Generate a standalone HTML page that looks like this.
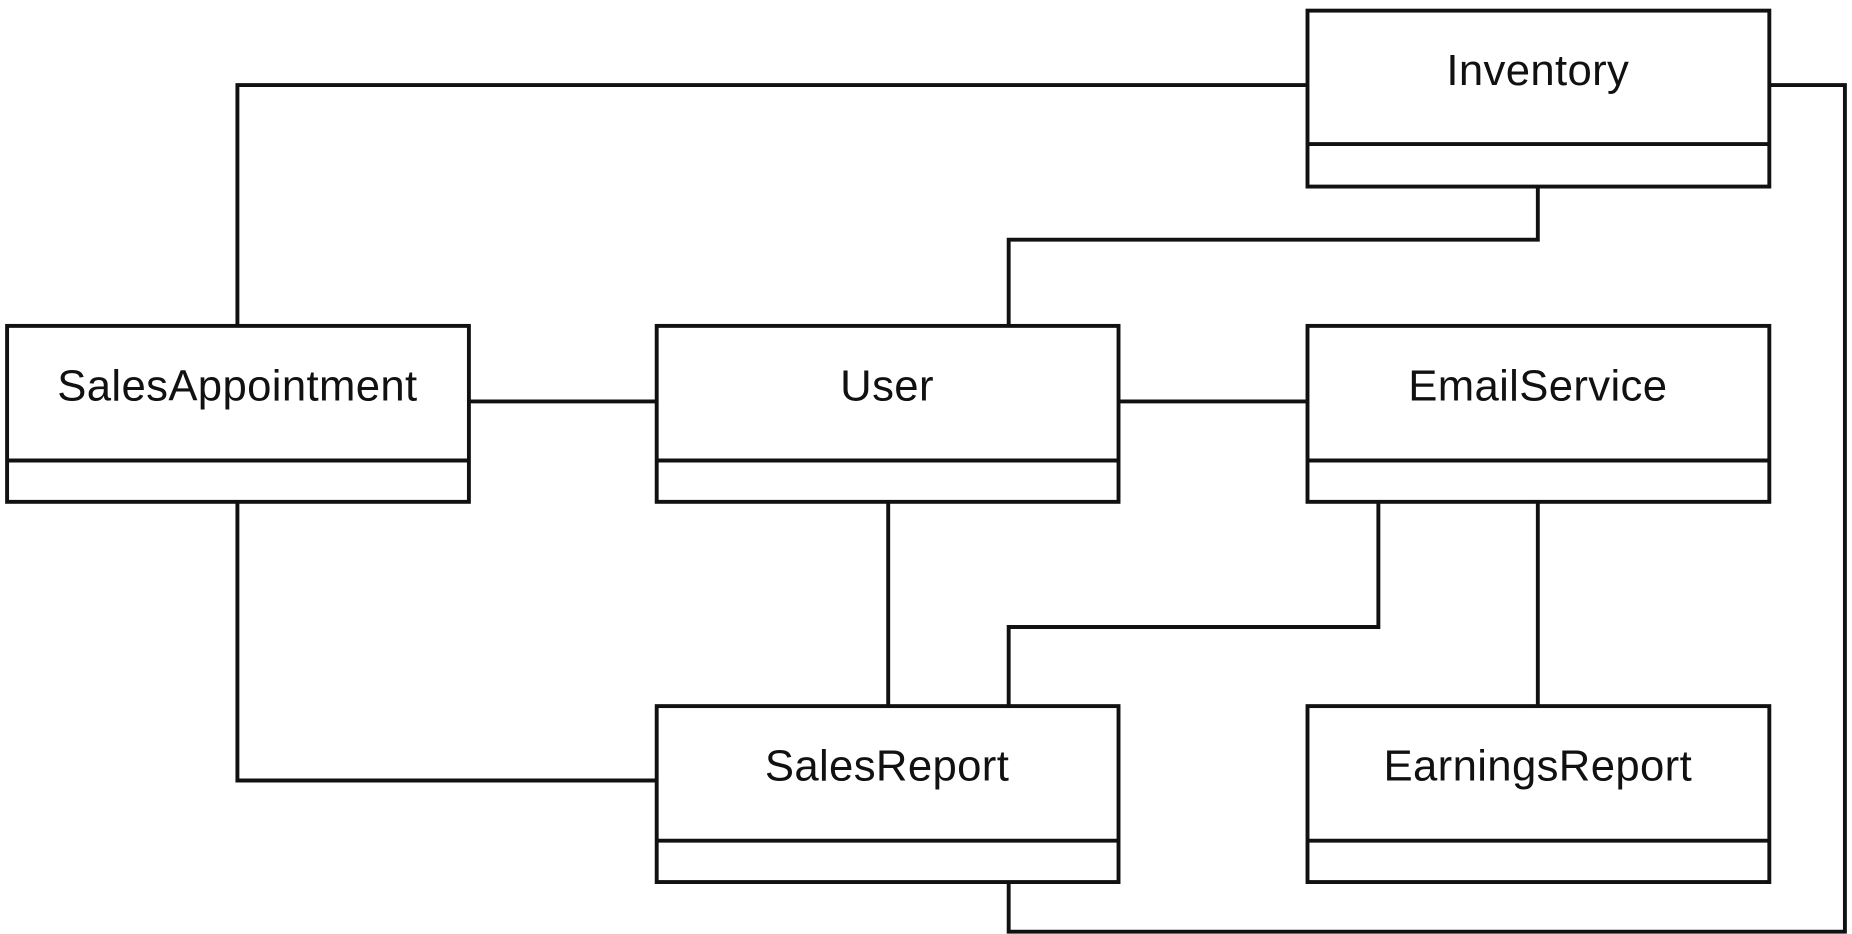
<!DOCTYPE html>
<html><head><meta charset="utf-8"><style>
html,body{margin:0;padding:0;background:#fff;}
svg{display:block;}
text{font-family:"Liberation Sans","DejaVu Sans",sans-serif;font-size:37px;fill:#111;text-anchor:middle;letter-spacing:0.3px;}
</style></head><body>
<svg width="1852" height="934" viewBox="0 0 1568 791" preserveAspectRatio="none">
<g fill="none" stroke="#111" stroke-width="3.3">
<rect x="1107" y="9" width="391" height="149"/><line x1="1107" y1="122" x2="1498" y2="122"/>
<rect x="6" y="276" width="391" height="149"/><line x1="6" y1="390" x2="397" y2="390"/>
<rect x="556" y="276" width="391" height="149"/><line x1="556" y1="390" x2="947" y2="390"/>
<rect x="1107" y="276" width="391" height="149"/><line x1="1107" y1="390" x2="1498" y2="390"/>
<rect x="556" y="598" width="391" height="149"/><line x1="556" y1="712" x2="947" y2="712"/>
<rect x="1107" y="598" width="391" height="149"/><line x1="1107" y1="712" x2="1498" y2="712"/>
<polyline points="1107,72 201,72 201,276"/>
<polyline points="1498,72 1562,72 1562,789 854,789 854,747"/>
<polyline points="1302,158 1302,203 854,203 854,276"/>
<line x1="397" y1="340" x2="556" y2="340"/>
<line x1="947" y1="340" x2="1107" y2="340"/>
<line x1="752" y1="425" x2="752" y2="598"/>
<polyline points="201,425 201,661 556,661"/>
<polyline points="1167,425 1167,531 854,531 854,598"/>
<line x1="1302" y1="425" x2="1302" y2="598"/>
</g>
<text x="1302" y="72">Inventory</text>
<text x="201" y="339">SalesAppointment</text>
<text x="751" y="339">User</text>
<text x="1302" y="339">EmailService</text>
<text x="751" y="661">SalesReport</text>
<text x="1302" y="661">EarningsReport</text>
</svg>
</body></html>
